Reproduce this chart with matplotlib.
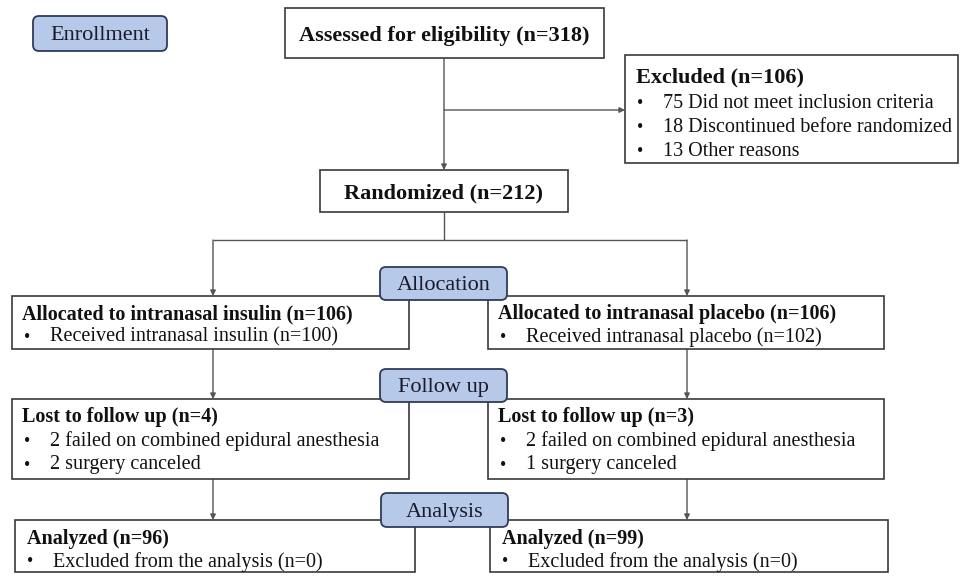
import matplotlib.pyplot as plt
from matplotlib.patches import Rectangle, FancyBboxPatch

# ---- data ----
assessed_n = 318
excluded_n = 106
excluded_counts = [75, 18, 13]
excluded_reasons = ["Did not meet inclusion criteria", "Discontinued before randomized", "Other reasons"]
randomized_n = 212
arm_names = ["insulin", "placebo"]
allocated_n = [106, 106]
received_n = [100, 102]
lost_n = [4, 3]
failed_cea_n = [2, 2]
canceled_n = [2, 1]
analyzed_n = [96, 99]
excluded_analysis_n = [0, 0]
stage_labels = ["Enrollment", "Allocation", "Follow up", "Analysis"]

FONT = "Liberation Serif"
EDGE = "#3a3a3a"
LINE = "#555555"
LABEL_FILL = "#b7c9e8"
LABEL_EDGE = "#2f3b58"
DY = 2  # small downward nudge for text baselines

fig = plt.figure(figsize=(9.64, 5.81), dpi=100)
ax = fig.add_axes([0, 0, 1, 1])
ax.set_xlim(0, 964)
ax.set_ylim(581, 0)
ax.axis("off")


def box(x0, y0, x1, y1):
    ax.add_patch(Rectangle((x0, y0), x1 - x0, y1 - y0, fill=True, fc="white",
                           ec=EDGE, lw=1.2, zorder=2))


def label(x0, y0, x1, y1, text):
    ax.add_patch(FancyBboxPatch((x0, y0), x1 - x0, y1 - y0,
                                boxstyle="round,pad=0,rounding_size=6",
                                fc=LABEL_FILL, ec=LABEL_EDGE, lw=1.3, zorder=4))
    ax.text((x0 + x1) / 2, (y0 + y1) / 2 + DY, text, ha="center", va="center",
            fontsize=16, family=FONT, color="#1a1a2a", zorder=5)


def heading(x, y, text, center=False, size=14.5):
    ax.text(x, y + DY, text, ha="center" if center else "left", va="center",
            fontsize=size, family=FONT, fontweight="bold", color="#111111", zorder=3)


def bullets(x0, y0, items, step=24):
    for i, t in enumerate(items):
        y = y0 + i * step + DY
        ax.text(x0 + 12, y, "•", ha="left", va="center", fontsize=13,
                family=FONT, color="#111111", zorder=3)
        ax.text(x0 + 38, y, t, ha="left", va="center", fontsize=14.5,
                family=FONT, color="#111111", zorder=3)


def line(xs, ys):
    ax.plot(xs, ys, color=LINE, lw=1.0, zorder=1, solid_capstyle="butt")


def arrow(x0, y0, x1, y1):
    ax.annotate("", xy=(x1, y1), xytext=(x0, y0),
                arrowprops=dict(arrowstyle="-|>", color=LINE, lw=1.0,
                                mutation_scale=8, shrinkA=0, shrinkB=0), zorder=1)


# Enrollment
label(33, 16, 167, 51, stage_labels[0])
box(285, 8, 604, 58)
heading(444, 34, f"Assessed for eligibility (n={assessed_n})", center=True, size=16)

box(625, 55, 958, 163)
heading(636, 75, f"Excluded (n={excluded_n})", size=16)
bullets(625, 101, [f"{c} {r}" for c, r in zip(excluded_counts, excluded_reasons)])

arrow(444, 58, 444, 170)
arrow(444, 110, 625, 110)

box(320, 170, 568, 212)
heading(444, 191, f"Randomized (n={randomized_n})", center=True, size=16)

# split into arms
arm_x = [213, 687]
line([444, 444], [212, 240])
line([arm_x[0], arm_x[1]], [240, 240])

box_x = [(12, 409), (488, 884)]
ana_x = [(15, 415), (490, 888)]

for i in range(2):
    cx = arm_x[i]
    x0, x1 = box_x[i]
    arrow(cx, 240, cx, 296)
    box(x0, 296, x1, 349)
    heading(x0 + 10, 312, f"Allocated to intranasal {arm_names[i]} (n={allocated_n[i]})")
    bullets(x0, 335, [f"Received intranasal {arm_names[i]} (n={received_n[i]})"])

    arrow(cx, 349, cx, 399)
    box(x0, 399, x1, 479)
    heading(x0 + 10, 415, f"Lost to follow up (n={lost_n[i]})")
    bullets(x0, 439, [f"{failed_cea_n[i]} failed on combined epidural anesthesia",
                      f"{canceled_n[i]} surgery canceled"])

    a0, a1 = ana_x[i]
    arrow(cx, 479, cx, 520)
    box(a0, 520, a1, 572)
    heading(a0 + 12, 537, f"Analyzed (n={analyzed_n[i]})")
    bullets(a0, 560, [f"Excluded from the analysis (n={excluded_analysis_n[i]})"])

label(380, 267, 507, 300, stage_labels[1])
label(380, 369, 507, 402, stage_labels[2])
label(381, 493, 508, 527, stage_labels[3])

fig.savefig("out.png", dpi=100, facecolor="white")
plt.close(fig)
